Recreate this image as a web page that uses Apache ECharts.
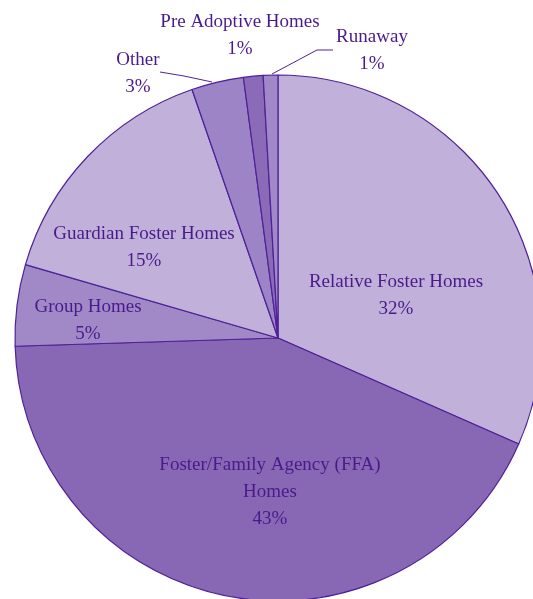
<!DOCTYPE html>
<html>
<head>
<meta charset="utf-8">
<script src="https://cdn.jsdelivr.net/npm/echarts@6/dist/echarts.min.js"></script>
<style>
    html, body { margin: 0; padding: 0; background: #fff; }
    #chart { width: 533px; height: 599px; }
</style>
</head>
<body>
<div id="chart"></div>
<script>
// categories and values (percent of placements)
var categories = ['Relative Foster Homes', 'Foster/Family Agency (FFA)\nHomes', 'Group Homes',
    'Guardian Foster Homes', 'Other', 'Pre Adoptive Homes', 'Runaway']
var values = [31.6, 42.9, 5.0, 15.2, 3.2, 1.2, 0.9]

var colors = ['#c1b0d9', '#8868b4', '#a189c7', '#c1b0d9', '#9d84c6', '#8b6bb8', '#a088c9']
var textColor = '#4a1a8c'
var borderColor = '#4e2198'

// where each label block sits (centre)
var labelPos = [[396, 296], [270, 492], [88, 321], [144, 248], [138, 74], [240, 36], [372, 51]]
var leaderLines = {
    4: [[212, 82], [184, 76], [160, 72]],
    6: [[272, 74], [317, 50], [333, 50]]
}

var data = []
for (var i = 0; i < categories.length; i++) {
    var outside = i >= 4
    data.push({
        name: categories[i],
        value: values[i],
        itemStyle: { color: colors[i] },
        label: { position: outside ? 'outside' : 'inside' },
        labelLine: { show: !!leaderLines[i] }
    })
}

var myChart = echarts.init(document.getElementById('chart'))
var option = {
    animation: false,
    series: [{
        type: 'pie',
        center: [278, 338],
        radius: 263,
        startAngle: 90,
        clockwise: true,
        avoidLabelOverlap: false,
        itemStyle: {
            borderColor: borderColor,
            borderWidth: 1.2
        },
        label: {
            show: true,
            color: textColor,
            fontFamily: 'Liberation Serif',
            fontSize: 19,
            lineHeight: 27,
            align: 'center',
            formatter: function(p) {
                return p.name + '\n' + Math.round(p.percent) + '%'
            }
        },
        labelLine: {
            lineStyle: { color: borderColor, width: 1 }
        },
        labelLayout: function(params) {
            var pos = labelPos[params.dataIndex]
            var out = {
                x: pos[0],
                y: pos[1],
                align: 'center',
                verticalAlign: 'middle'
            }
            if (leaderLines[params.dataIndex]) {
                out.labelLinePoints = leaderLines[params.dataIndex]
            }
            return out
        },
        data: data
    }]
}
myChart.setOption(option)
</script>
</body>
</html>
